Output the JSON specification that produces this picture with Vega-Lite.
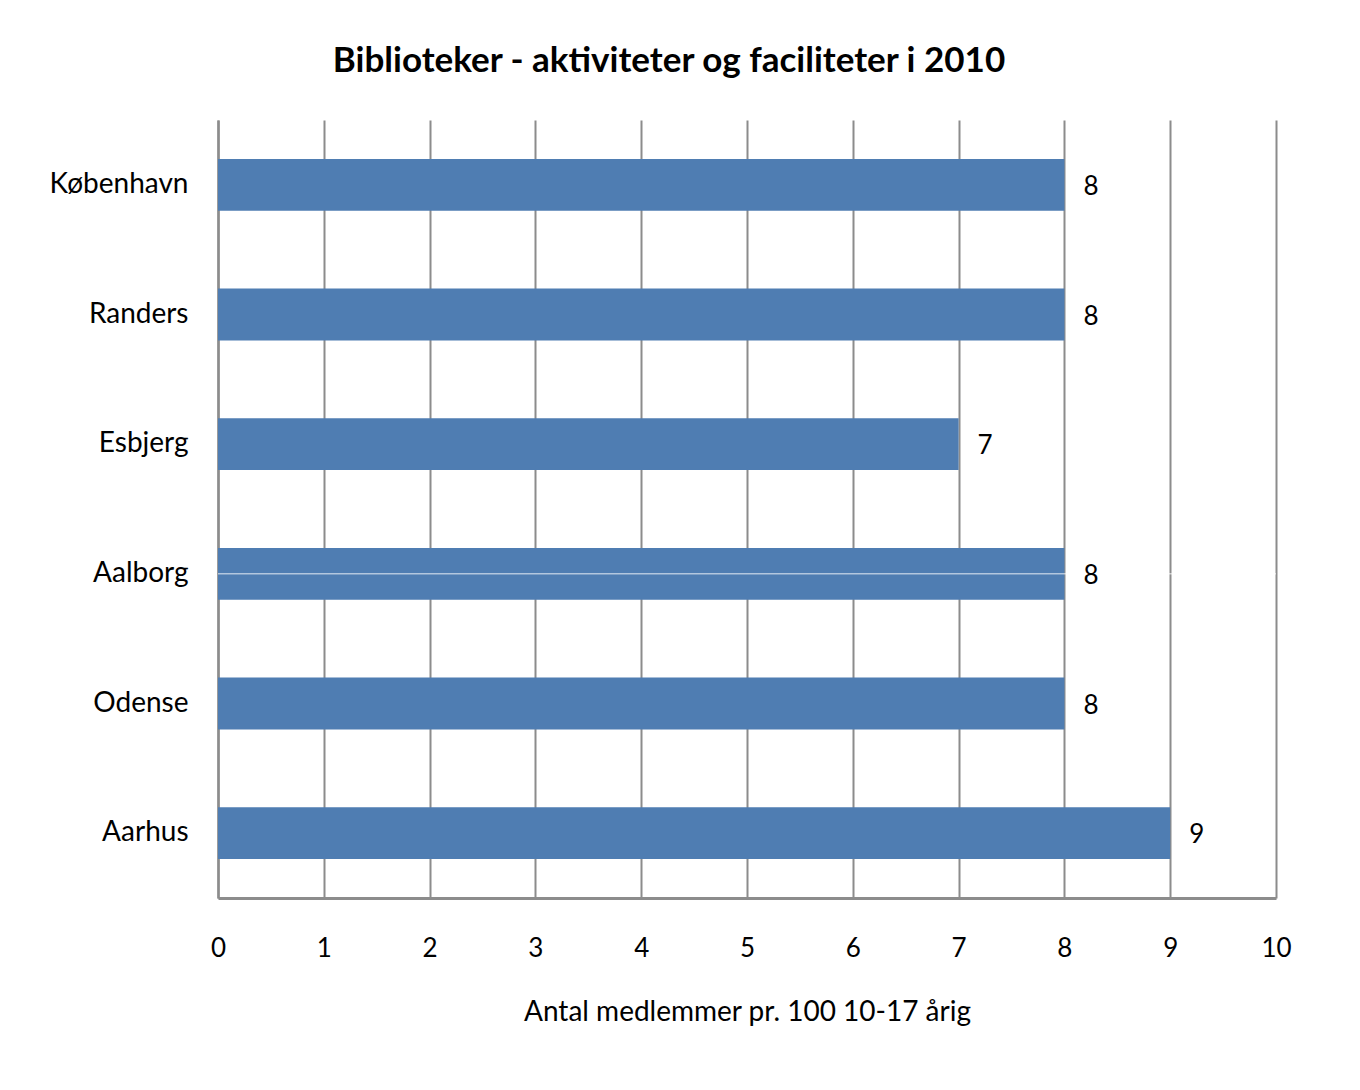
{
  "$schema": "https://vega.github.io/schema/vega-lite/v6.json",
  "autosize": "none",
  "width": 1058,
  "height": 778,
  "padding": {"left": 218, "top": 120, "right": 84, "bottom": 192},
  "background": "white",
  "title": {
    "text": "Biblioteker - aktiviteter og faciliteter i 2010",
    "font": "Lato",
    "fontSize": 35,
    "fontWeight": "bold",
    "color": "#000000",
    "anchor": "middle",
    "frame": "group",
    "dx": -78,
    "offset": 41
  },
  "data": {
    "values": [
      {"by": "København", "v": 8},
      {"by": "Randers", "v": 8},
      {"by": "Esbjerg", "v": 7},
      {"by": "Aalborg", "v": 8},
      {"by": "Odense", "v": 8},
      {"by": "Aarhus", "v": 9}
    ]
  },
  "encoding": {
    "y": {
      "field": "by",
      "type": "nominal",
      "sort": null,
      "scale": {"paddingInner": 0.6, "paddingOuter": 0.3},
      "axis": {
        "title": null,
        "ticks": false,
        "labelFont": "Lato",
        "labelFontSize": 28,
        "labelColor": "#000000",
        "labelPadding": 30,
        "domainColor": "#8c8c8c",
        "domainWidth": 2.5
      }
    }
  },
  "layer": [
    {
      "mark": {"type": "bar", "color": "#4F7DB2"},
      "encoding": {
        "x": {
          "field": "v",
          "type": "quantitative",
          "scale": {"domain": [0, 10], "nice": false},
          "axis": {
            "title": "Antal medlemmer pr. 100 10-17 årig",
            "titleFont": "Lato",
            "titleFontSize": 28,
            "titleFontWeight": "normal",
            "titleColor": "#000000",
            "titlePadding": 37,
            "values": [0, 1, 2, 3, 4, 5, 6, 7, 8, 9, 10],
            "format": "d",
            "ticks": false,
            "labelFont": "Lato",
            "labelFontSize": 26,
            "labelColor": "#000000",
            "labelPadding": 37,
            "labelFlush": false,
            "domainColor": "#8c8c8c",
            "domainWidth": 3,
            "grid": true,
            "gridColor": "#8c8c8c",
            "gridWidth": 2
          }
        }
      }
    },
    {
      "transform": [{"filter": "datum.by === 'Aalborg'"}],
      "mark": {"type": "rule", "color": "#ffffff", "strokeWidth": 1, "opacity": 0.85},
      "encoding": {
        "x": {"datum": 0, "type": "quantitative"},
        "x2": {"datum": 10}
      }
    },
    {
      "mark": {"type": "text", "align": "left", "baseline": "middle", "dx": 19, "dy": 2, "font": "Lato", "fontSize": 26, "color": "#000000"},
      "encoding": {
        "x": {"field": "v", "type": "quantitative"},
        "text": {"field": "v", "type": "quantitative"}
      }
    }
  ],
  "config": {
    "view": {"stroke": null}
  }
}
